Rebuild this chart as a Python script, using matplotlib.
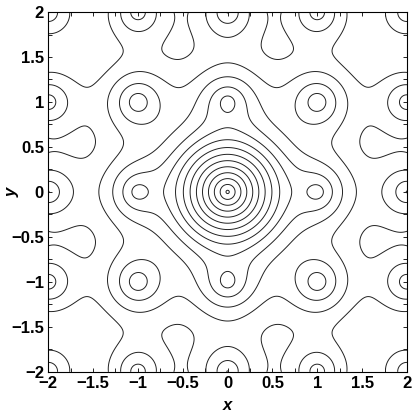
import numpy as np
import matplotlib.pyplot as plt

# 格点 (整数格点) 与场参数
lattice_x = np.arange(-4, 5)
lattice_y = np.arange(-4, 5)
core_weight = 12.0     # 中心尖峰权重
core_decay = 0.2       # 中心尖峰衰减长度
site_decay = 0.28      # 格点尖峰衰减长度
site_envelope = 0.45   # 格点权重随距离的衰减率

# 等值线 (对数刻度上等间距)
level_step = 0.32
level_anchor = (1.0667, 0.0)   # 这一点正好落在一条等值线上

# 坐标轴刻度
major_ticks = [-2, -1.5, -1, -0.5, 0, 0.5, 1, 1.5, 2]
tick_labels = ['\u22122', '\u22121.5', '\u22121', '\u22120.5', '0', '0.5', '1', '1.5', '2']
minor_ticks = np.arange(-2, 2.01, 0.25)

plt.rcParams['font.family'] = ['Liberation Sans Narrow', 'Liberation Sans', 'DejaVu Sans']

# 计算网格上的场
x = np.linspace(-2, 2, 601)
y = np.linspace(-2, 2, 601)
X, Y = np.meshgrid(x, y)


def density(px, py):
    r = np.hypot(px, py)
    f = core_weight * np.exp(-r / core_decay)
    for m in lattice_x:
        for n in lattice_y:
            if m == 0 and n == 0:
                continue
            w = np.exp(-site_envelope * np.hypot(m, n))
            f = f + w * np.exp(-np.hypot(px - m, py - n) / site_decay)
    return np.log(f)


Z = density(X, Y)
z0 = density(np.array(level_anchor[0]), np.array(level_anchor[1]))
levels = z0 + level_step * np.arange(-15, 30)
levels = levels[(levels > Z.min()) & (levels < Z.max())]

fig = plt.figure(figsize=(4.15, 4.15), dpi=100)
ax = fig.add_axes([0.116, 0.104, 0.865, 0.867])
ax.contour(X, Y, Z, levels=levels, colors='#222222', linewidths=0.7,
           linestyles='solid')

ax.set_xlim(-2, 2)
ax.set_ylim(-2, 2)
ax.set_xticks(major_ticks)
ax.set_xticklabels(tick_labels)
ax.set_yticks(major_ticks)
ax.set_yticklabels(tick_labels)
ax.set_xticks(minor_ticks, minor=True)
ax.set_yticks(minor_ticks, minor=True)
ax.tick_params(which='both', direction='in', top=True, right=True,
               length=3, width=0.6, labelsize=12, pad=3)
for lab in ax.get_xticklabels() + ax.get_yticklabels():
    lab.set_fontweight('bold')
for s in ax.spines.values():
    s.set_linewidth(0.8)

ax.set_xlabel('x', fontsize=12, fontstyle='italic', fontweight='bold')
ax.set_ylabel('y', fontsize=12, fontstyle='italic', fontweight='bold')
ax.xaxis.set_label_coords(0.5, -0.072)
ax.yaxis.set_label_coords(-0.08, 0.5)

plt.savefig('out.png', dpi=100)
